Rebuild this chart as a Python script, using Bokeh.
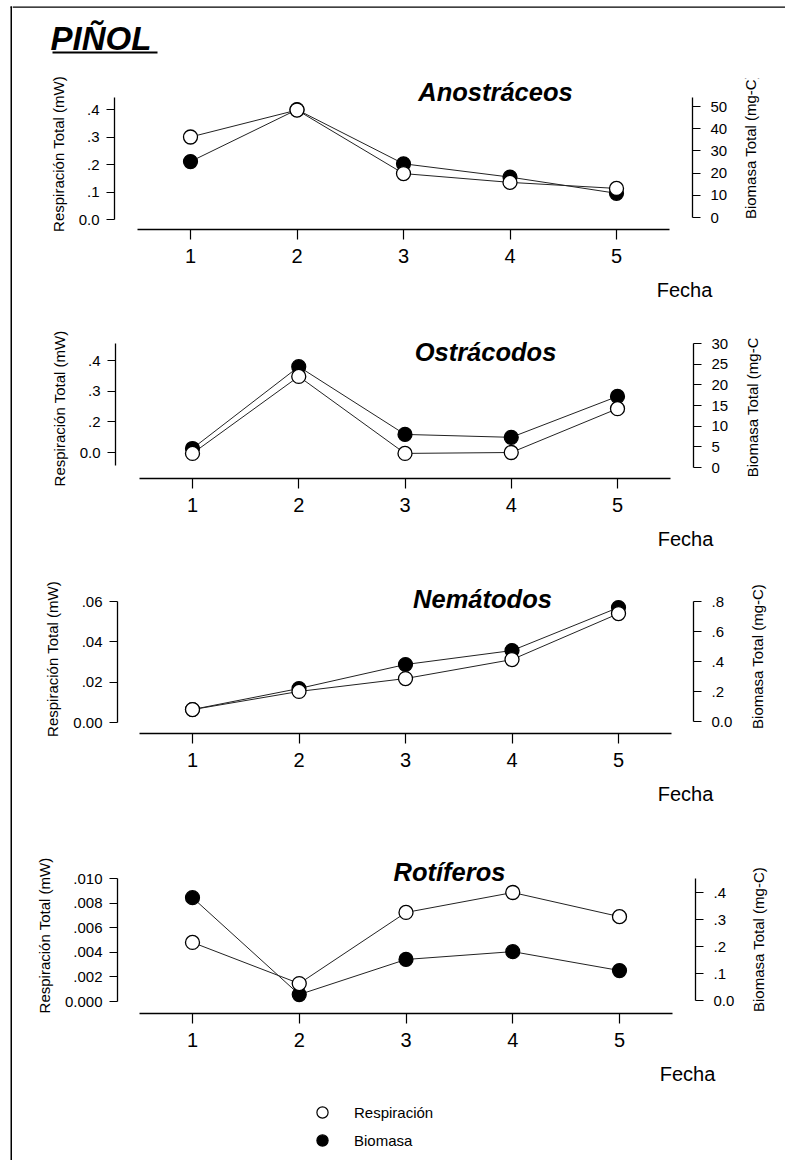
import math
from bokeh.plotting import figure
from bokeh.models import (Range1d, LinearAxis, FixedTicker, Label, Legend,
                          LegendItem, BoxAnnotation, Grid)
from bokeh.layouts import column, row
from bokeh.embed import file_html
from bokeh.resources import INLINE

# ---------------- data ----------------
fecha = [1, 2, 3, 4, 5]
fecha_labels = ["1", "2", "3", "4", "5"]

anos_resp = [0.300, 0.398, 0.167, 0.135, 0.113]
anos_biom = [25.2, 48.6, 24.2, 18.2, 10.9]
ostr_resp = [0.097, 0.348, 0.097, 0.100, 0.243]
ostr_biom = [4.6, 24.4, 8.0, 7.3, 17.2]
nema_resp = [0.0064, 0.0154, 0.0218, 0.0312, 0.0540]
nema_biom = [0.08, 0.22, 0.38, 0.473, 0.76]
roti_resp = [0.0048, 0.00146, 0.00724, 0.00886, 0.0069]
roti_biom = [0.381, 0.022, 0.152, 0.181, 0.111]

anos_left_ticks = [0.0, 0.1, 0.2, 0.3, 0.4]
anos_left_labels = ["0.0", ".1", ".2", ".3", ".4"]
anos_right_ticks = [0, 10, 20, 30, 40, 50]
anos_right_labels = ["0", "10", "20", "30", "40", "50"]

ostr_left_ticks = [0.1, 0.2, 0.3, 0.4]
ostr_left_labels = ["0.0", ".2", ".3", ".4"]
ostr_right_ticks = [0, 5, 10, 15, 20, 25, 30]
ostr_right_labels = ["0", "5", "10", "15", "20", "25", "30"]

nema_left_ticks = [0.0, 0.02, 0.04, 0.06]
nema_left_labels = ["0.00", ".02", ".04", ".06"]
nema_right_ticks = [0.0, 0.2, 0.4, 0.6, 0.8]
nema_right_labels = ["0.0", ".2", ".4", ".6", ".8"]

roti_left_ticks = [0.0, 0.002, 0.004, 0.006, 0.008, 0.010]
roti_left_labels = ["0.000", ".002", ".004", ".006", ".008", ".010"]
roti_right_ticks = [0.0, 0.1, 0.2, 0.3, 0.4]
roti_right_labels = ["0.0", ".1", ".2", ".3", ".4"]

titles = ["Anostráceos", "Ostrácodos", "Nemátodos", "Rotíferos"]
main_title = "PIÑOL"
left_label = "Respiración Total (mW)"
right_label = "Biomasa Total (mg-C)"
x_label = "Fecha"
legend_labels = ["Respiración", "Biomasa"]

# ---------------- layout (page pixels, origin at page top-left) ----------------
X0 = 12          # main area starts here (left border strip before it)
XR = 738         # boundary between panel and right-label strip
X1 = 785         # right end
YB = 1160        # bottom end
FONT = "Liberation Sans"


def span_range(v0, p0, v1, p1, lo_px, hi_px):
    k = (p1 - p0) / (v1 - v0)
    return v0 + (lo_px - p0) / k, v0 + (hi_px - p0) / k


def hide_grids(p):
    for r in list(p.center):
        if isinstance(r, Grid):
            r.visible = False


def strip(x0, x1, y0, y1):
    """figure whose data coordinates equal page pixels"""
    p = figure(width=x1 - x0, height=y1 - y0, x_range=Range1d(x0, x1),
               y_range=Range1d(y1, y0), x_axis_location=None, y_axis_location=None,
               min_border=0, min_border_left=0, min_border_right=0,
               min_border_top=0, min_border_bottom=0,
               toolbar_location=None, output_backend="svg")
    p.outline_line_color = None
    p.background_fill_color = "white"
    p.border_fill_color = "white"
    hide_grids(p)
    return p


specs = [
    dict(y0=62, h=213, frame=(114, 692, 78, 229), x1=190, x5=616,
         lcal=((0.0, 219), (0.4, 109)), rcal=((0, 217), (50, 106)),
         lb=(0.0, 0.4436), rb=(0, 54), title=(495, 91), fecha=(684, 289),
         rlab=(750, 158), strip=(275, 302)),
    dict(y0=302, h=222, frame=(115, 693, 338, 478), x1=192, x5=617,
         lcal=((0.1, 452), (0.4, 360)), rcal=((0, 467), (30, 343)),
         lb=(0.0576, 0.455), rb=(0, 30), title=(485, 351.5), fecha=(685, 538),
         rlab=(752, 407), strip=(524, 551)),
    dict(y0=551, h=228, frame=(117, 693, 584, 733), x1=192, x5=618,
         lcal=((0.0, 722), (0.06, 601)), rcal=((0.0, 721), (0.8, 601)),
         lb=(0.0, 0.06), rb=(0.0, 0.8), title=(482, 598.5), fecha=(685, 793),
         rlab=(757, 661), strip=(779, 806)),
    dict(y0=806, h=253, frame=(117, 695, 857, 1013), x1=192, x5=619,
         lcal=((0.0, 1001), (0.010, 878)), rcal=((0.0, 1000), (0.4, 892)),
         lb=(0.0, 0.010), rb=(0.0, 0.452), title=(449, 871), fecha=(687, 1073),
         rlab=(758, 939), strip=(1059, YB)),
]


def style_axis(ax, tick_out, standoff, size):
    ax.axis_line_color = "black"
    ax.axis_line_width = 1.3
    ax.major_tick_line_color = "black"
    ax.major_tick_line_width = 1.2
    ax.major_tick_in = 0
    ax.major_tick_out = tick_out
    ax.minor_tick_line_color = None
    ax.major_label_standoff = standoff
    ax.major_label_text_font = FONT
    ax.major_label_text_font_size = size
    ax.major_label_text_color = "black"
    ax.axis_label_text_font = FONT
    ax.axis_label_text_font_size = "15px"
    ax.axis_label_text_font_style = "normal"
    ax.axis_label_text_color = "black"


def text_label(x, y, text, size, style="normal", angle=0.0, align="center"):
    return Label(x=x, y=y, text=text, angle=angle, text_align=align,
                 text_baseline="middle", text_font=FONT, text_font_style=style,
                 text_font_size=size, text_color="black")


def make_panel(i, resp, biom, lt, ll, rt, rl, legend=False):
    s = specs[i]
    fl, fr, ft, fb = s["frame"]
    y0, h = s["y0"], s["h"]
    xs, xe = span_range(1, s["x1"], 5, s["x5"], fl, fr)
    (a0, q0), (a1, q1) = s["lcal"]
    ls, le = span_range(a0, q0, a1, q1, fb, ft)
    (b0, r0), (b1, r1) = s["rcal"]
    rs, re_ = span_range(b0, r0, b1, r1, fb, ft)

    def xd(px):
        return xs + (px - fl) / (fr - fl) * (xe - xs)

    def yd(py):
        return ls + (fb - py) / (fb - ft) * (le - ls)

    p = figure(width=XR - X0, height=h, x_range=Range1d(xs, xe), y_range=Range1d(ls, le),
               x_axis_location=None, y_axis_location=None,
               min_border_left=fl - X0, min_border_right=XR - fr,
               min_border_top=ft - y0, min_border_bottom=y0 + h - fb,
               toolbar_location=None, output_backend="svg")
    p.extra_y_ranges = {"bio": Range1d(rs, re_)}
    p.outline_line_color = None
    p.background_fill_color = "white"
    p.border_fill_color = "white"
    hide_grids(p)

    xa = LinearAxis(ticker=FixedTicker(ticks=fecha),
                    major_label_overrides=dict(zip(fecha, fecha_labels)),
                    bounds=(0.5, 5.5))
    style_axis(xa, 10, 9, "20px")
    p.add_layout(xa, "below")

    la = LinearAxis(ticker=FixedTicker(ticks=lt),
                    major_label_overrides=dict(zip(lt, ll)),
                    bounds=s["lb"], axis_label=left_label)
    style_axis(la, 8, 7, "15px")
    la.axis_label_standoff = 9
    p.add_layout(la, "left")

    ra = LinearAxis(ticker=FixedTicker(ticks=rt), y_range_name="bio",
                    major_label_overrides=dict(zip(rt, rl)),
                    bounds=s["rb"])
    style_axis(ra, 8, 10, "15px")
    p.add_layout(ra, "right")

    p.line(fecha, resp, line_color="#222222", line_width=1)
    p.line(fecha, biom, y_range_name="bio", line_color="#222222", line_width=1)
    p.scatter(fecha, biom, y_range_name="bio", size=14, marker="circle",
              fill_color="black", line_color="black", line_width=1.2)
    p.scatter(fecha, resp, size=14, marker="circle",
              fill_color="white", line_color="black", line_width=1.3)

    tx, ty = s["title"]
    p.add_layout(Label(x=xd(tx), y=yd(ty), text=titles[i], text_align="center",
                       text_baseline="middle", text_font=FONT,
                       text_font_style="bold italic", text_font_size="25.5px",
                       text_color="black"))

    # right-axis title strip
    rstrip = strip(XR, X1, y0, y0 + h)
    rx, ry = s["rlab"]
    rstrip.add_layout(text_label(rx, ry, right_label, "15px", angle=math.pi / 2))

    # "Fecha" strip
    sy0, sy1 = s["strip"]
    fst = strip(X0, X1, sy0, sy1)
    fx, fy = s["fecha"]
    fst.add_layout(text_label(fx, fy, x_label, "20px"))
    if legend:
        # hidden copies of the last panel's series, used only for the legend glyphs
        r_open = fst.scatter(fecha, resp, marker="circle", size=11, visible=False,
                             fill_color="white", line_color="black", line_width=1.2)
        r_fill = fst.scatter(fecha, biom, marker="circle", size=11, visible=False,
                             fill_color="black", line_color="black", line_width=1.2)
        lg = Legend(items=[LegendItem(label=legend_labels[0], renderers=[r_open]),
                           LegendItem(label=legend_labels[1], renderers=[r_fill])],
                    location=(307 - X0, sy1 - 1154), orientation="vertical",
                    glyph_width=30, glyph_height=28, label_height=28, spacing=0,
                    padding=0, margin=0, label_standoff=17,
                    border_line_color=None, background_fill_alpha=0,
                    inactive_fill_alpha=0,
                    label_text_font=FONT, label_text_font_size="15px",
                    label_text_color="black")
        fst.add_layout(lg)
    return row(p, rstrip, spacing=0), fst


# header strip (top page border, title, underline)
header = strip(X0, X1, 0, 62)
header.add_layout(BoxAnnotation(left=X0, right=X1, top=6, bottom=7.3,
                                fill_color="black", fill_alpha=1, line_color=None))
header.add_layout(text_label(50, 37.5, main_title, "33px", style="bold italic",
                             align="left"))
header.add_layout(BoxAnnotation(left=52, right=157, top=51, bottom=53,
                                fill_color="black", fill_alpha=1, line_color=None))

r1, f1 = make_panel(0, anos_resp, anos_biom, anos_left_ticks, anos_left_labels,
                    anos_right_ticks, anos_right_labels)
r2, f2 = make_panel(1, ostr_resp, ostr_biom, ostr_left_ticks, ostr_left_labels,
                    ostr_right_ticks, ostr_right_labels)
r3, f3 = make_panel(2, nema_resp, nema_biom, nema_left_ticks, nema_left_labels,
                    nema_right_ticks, nema_right_labels)
r4, f4 = make_panel(3, roti_resp, roti_biom, roti_left_ticks, roti_left_labels,
                    roti_right_ticks, roti_right_labels, legend=True)

body = column(header, r1, f1, r2, f2, r3, f3, r4, f4, spacing=0)

# left page border strip
lstrip = strip(0, X0, 0, YB)
lstrip.add_layout(BoxAnnotation(left=10, right=11.5, top=6, bottom=YB,
                                fill_color="black", fill_alpha=1, line_color=None))
lstrip.add_layout(BoxAnnotation(left=10, right=X0, top=6, bottom=7.3,
                                fill_color="black", fill_alpha=1, line_color=None))

layout = row(lstrip, body, spacing=0)

open("out.html", "w").write(file_html(layout, INLINE))
